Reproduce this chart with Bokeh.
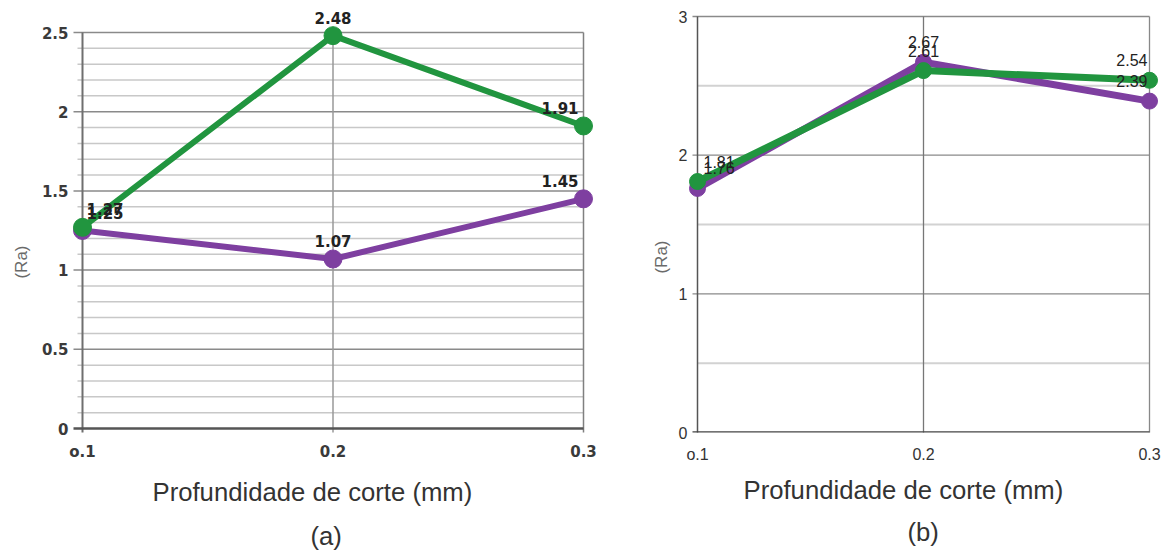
from bokeh.plotting import figure
from bokeh.models import Range1d, FixedTicker, ColumnDataSource, Title
from bokeh.layouts import row
from bokeh.embed import file_html
from bokeh.resources import INLINE
from bokeh.core.properties import value

# ---------------- data ----------------
depth = [0.1, 0.2, 0.3]
depth_labels = ["o.1", "0.2", "0.3"]

a_purple = [1.25, 1.07, 1.45]
a_green = [1.27, 2.48, 1.91]
b_purple = [1.76, 2.67, 2.39]
b_green = [1.81, 2.61, 2.54]

a_yticks = [0, 0.5, 1, 1.5, 2, 2.5]
a_yminor = [0.1, 0.2, 0.3, 0.4, 0.6, 0.7, 0.8, 0.9, 1.1, 1.2, 1.3, 1.4,
            1.6, 1.7, 1.8, 1.9, 2.1, 2.2, 2.3, 2.4]
b_yticks = [0, 1, 2, 3]
b_yminor = [0.5, 1.5, 2.5]

x_title = "Profundidade de corte (mm)"
y_title = "(Ra)"
panel_names = ["(a)", "(b)"]

GREEN = "#21953f"
PURPLE = "#7e3fa0"


def make_panel(cfg):
    # pixel geometry (page coordinates)
    kx = (cfg["px1"] - cfg["px0"]) / (depth[-1] - depth[0])
    ky = (cfg["py0"] - cfg["pytop"]) / cfg["ytop"]
    fl, fr = cfg["frame_left"], cfg["frame_right"]
    ft, fb = cfg["frame_top"], cfg["frame_bottom"]
    xr = Range1d(depth[0] - (cfg["px0"] - fl) / kx, depth[-1] + (fr - cfg["px1"]) / kx)
    yr = Range1d((cfg["py0"] - fb) / ky, (cfg["py0"] - ft) / ky)

    def dx(px):
        return depth[0] + (px - cfg["px0"]) / kx

    def dy(py):
        return (cfg["py0"] - py) / ky

    p = figure(width=cfg["width"], height=cfg["height"], x_range=xr, y_range=yr,
               output_backend="svg", toolbar_location=None,
               min_border_left=fl - cfg["fig_left"], min_border_right=cfg["fig_left"] + cfg["width"] - fr,
               min_border_top=ft, min_border_bottom=cfg["height"] - fb)
    p.outline_line_color = None
    p.xgrid.visible = False
    p.ygrid.visible = False

    # axes: labels only, lines drawn by hand
    for ax in (p.xaxis[0], p.yaxis[0]):
        ax.axis_line_color = None
        ax.major_tick_line_color = None
        ax.minor_tick_line_color = None
        ax.major_tick_out = 0
        ax.major_tick_in = 0
        ax.minor_tick_out = 0
        ax.minor_tick_in = 0
        ax.major_label_text_font = cfg["tick_font"]
        ax.major_label_text_font_size = cfg["tick_size"]
        ax.major_label_text_font_style = cfg["tick_style"]
        ax.major_label_text_color = cfg["tick_color"]
    p.xaxis.ticker = FixedTicker(ticks=depth)
    p.xaxis.major_label_overrides = {d: l for d, l in zip(depth, depth_labels)}
    p.xaxis.major_label_standoff = cfg["x_standoff"]
    p.yaxis.ticker = FixedTicker(ticks=cfg["yticks"])
    p.yaxis.major_label_overrides = {t: (f"{t:g}") for t in cfg["yticks"]}
    p.yaxis.major_label_standoff = cfg["y_standoff"]

    top = cfg["yticks"][-1]
    # minor horizontal lines
    p.segment(x0=[dx(cfg["px0"] - cfg["minor_tick"])] * len(cfg["yminor"]), x1=[depth[-1]] * len(cfg["yminor"]),
              y0=cfg["yminor"], y1=cfg["yminor"], line_color=cfg["minor_color"], line_width=cfg["minor_width"])
    # major horizontal lines (except 0)
    majors = [t for t in cfg["yticks"] if t != 0]
    p.segment(x0=[dx(cfg["px0"] - cfg["major_tick"])] * len(majors), x1=[depth[-1]] * len(majors),
              y0=majors, y1=majors, line_color=cfg["major_color"], line_width=cfg["major_width"])
    # vertical lines
    p.segment(x0=depth, x1=depth, y0=[dy(cfg["py0"] + cfg["xtick"])] * 3, y1=[top] * 3,
              line_color=cfg["vert_colors"], line_width=cfg["vert_widths"])
    # zero line
    p.segment(x0=[dx(cfg["px0"] - cfg["major_tick"])], x1=[depth[-1]], y0=[0], y1=[0],
              line_color=cfg["zero_color"], line_width=cfg["zero_width"])

    # series
    for ys, col in ((cfg["purple"], PURPLE), (cfg["green"], GREEN)):
        p.line(depth, ys, line_color=col, line_width=cfg["lw"], line_join="round")
        p.scatter(depth, ys, size=cfg["ms"], fill_color=col, line_color=col)

    # data labels
    for ys in (cfg["purple"], cfg["green"]):
        src = ColumnDataSource(dict(x=depth, y=ys, t=[f"{v:.2f}" for v in ys],
                                    al=["left", "center", "right"], xo=cfg["lab_xoff"]))
        p.text(x="x", y="y", text="t", source=src, text_align="al", x_offset="xo",
               y_offset=cfg["lab_yoff"], text_baseline="middle",
               text_font=value(cfg["lab_font"]), text_font_size=cfg["lab_size"],
               text_font_style=cfg["lab_style"], text_color="#222222")

    # titles outside the frame
    p.add_layout(Title(text=x_title, align="left", offset=cfg["xt_left"] - fl, standoff=cfg["xt_standoff"],
                       text_font="Liberation Sans", text_font_size="25.7px", text_font_style="normal",
                       text_color="#333333"), "below")
    p.add_layout(Title(text=cfg["panel"], align="left", offset=cfg["pn_left"] - fl, standoff=cfg["pn_standoff"],
                       text_font="Liberation Sans", text_font_size="25.7px", text_font_style="normal",
                       text_color="#333333"), "below")
    p.add_layout(Title(text=y_title, align="right", offset=cfg["yt_top"] - ft, standoff=cfg["yt_standoff"],
                       text_font="Liberation Sans", text_font_size=cfg["yt_size"], text_font_style="normal",
                       text_color="#6a6a6a"), "left")
    return p


# the two frames share top and bottom edges (row layout aligns them)
cfg_a = dict(fig_left=0, width=626, height=554,
             frame_left=70, frame_right=598, frame_top=0, frame_bottom=432,
             px0=82, px1=583, py0=428, pytop=32, ytop=2.5,
             yticks=a_yticks, yminor=a_yminor, purple=a_purple, green=a_green,
             tick_font="DejaVu Sans", tick_size="15px", tick_style="bold", tick_color="#3a3a3a",
             x_standoff=10, y_standoff=2,
             minor_tick=5, major_tick=9, xtick=6,
             minor_color="#c8c8c8", minor_width=1.5, major_color="#8a8a8a", major_width=1.5,
             vert_colors=["#6f6f6f", "#999999", "#808080"], vert_widths=[2, 1.5, 1.5],
             zero_color="#555555", zero_width=2.5,
             lw=6, ms=18, lab_xoff=[4, 0, -5], lab_yoff=-18,
             lab_font="DejaVu Sans", lab_size="15px", lab_style="bold",
             xt_left=152, xt_standoff=25, pn_left=310, pn_standoff=2, panel=panel_names[0],
             yt_top=245, yt_standoff=15, yt_size="17px")

cfg_b = dict(fig_left=626, width=536, height=554,
             frame_left=688, frame_right=1160, frame_top=0, frame_bottom=432,
             px0=697, px1=1149, py0=432, pytop=16, ytop=3,
             yticks=b_yticks, yminor=b_yminor, purple=b_purple, green=b_green,
             tick_font="Liberation Sans", tick_size="16px", tick_style="normal", tick_color="#333333",
             x_standoff=13, y_standoff=1,
             minor_tick=0, major_tick=5, xtick=5,
             minor_color="#d2d2d2", minor_width=2, major_color="#8a8a8a", major_width=1.3,
             vert_colors=["#555555", "#777777", "#888888"], vert_widths=[1.5, 1.3, 1.3],
             zero_color="#444444", zero_width=2.5,
             lw=7, ms=16, lab_xoff=[6, 0, -2], lab_yoff=-20,
             lab_font="Liberation Sans", lab_size="16px", lab_style="normal",
             xt_left=743, xt_standoff=17, pn_left=907, pn_standoff=6, panel=panel_names[1],
             yt_top=240, yt_standoff=10, yt_size="17px")

pa = make_panel(cfg_a)
pb = make_panel(cfg_b)
layout = row(pa, pb)
open("out.html", "w").write(file_html(layout, INLINE))
